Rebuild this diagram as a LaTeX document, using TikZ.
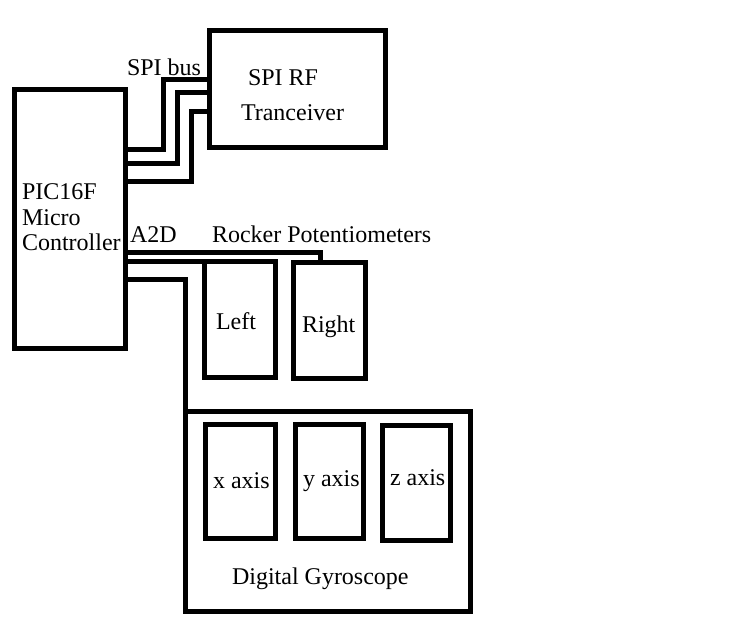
\documentclass[tikz,border=0pt]{standalone}
\usepackage{fontspec}
\setmainfont{Liberation Serif}
\newfontfamily\tnrfont{Liberation Serif}
\begin{document}
\begin{tikzpicture}[x=1pt,y=-1pt,
  box/.style={draw, line width=5pt, inner sep=0pt, outer sep=0pt},
  wire/.style={draw, line width=5pt},
  lbl/.style={inner sep=0pt, outer sep=0pt, anchor=base west, font=\tnrfont\fontsize{24}{25.5}\selectfont}]
\useasboundingbox (0,0) rectangle (738,636);
% boxes
\node[box, minimum width=111pt, minimum height=258pt] (pic) at (69.5,219) {};
\node[box, minimum width=176pt, minimum height=117pt] (spi) at (297,89.5) {};
\node[box, minimum width=71pt, minimum height=116pt] (left) at (239.5,319) {};
\node[box, minimum width=72pt, minimum height=116pt] (right) at (329,320) {};
\node[box, minimum width=285pt, minimum height=200pt] (gyro) at (327.5,511) {};
\node[box, minimum width=70pt, minimum height=114pt] (xax) at (240,481) {};
\node[box, minimum width=68pt, minimum height=114pt] (yax) at (329,481) {};
\node[box, minimum width=68pt, minimum height=115pt] (zax) at (416,482.5) {};
% SPI bus wires
\draw[wire] (pic.east |- 0,150) -| (163,80) -- (spi.west |- 163,80);
\draw[wire] (pic.east |- 0,164) -| (177,93) -- (spi.west |- 177,93);
\draw[wire] (pic.east |- 0,182) -| (191,112) -- (spi.west |- 191,112);
% A2D wires
\draw[wire] (pic.east |- 0,252) -| (right.north -| 320,0);
\draw[wire] (pic.east |- left.north west) -- (left.north west);
\draw[wire] (pic.east |- 0,279) -| (gyro.north west);
% labels
\node[lbl, anchor=north west, align=left] (pict) at (22,184) {PIC16F\\Micro\\Controller};
\node[lbl] (spib) at (127,76) {SPI bus};
\node[lbl] (spit1) at (248,86) {SPI RF};
\node[lbl] (spit2) at (241,121) {Tranceiver};
\node[lbl] (a2d) at (130,243) {A2D};
\node[lbl] (rock) at (212,243) {Rocker Potentiometers};
\node[lbl] (leftt) at (216,329) {Left};
\node[lbl] (rightt) at (302,332) {Right};
\node[lbl] (xt) at (213,488) {x axis};
\node[lbl] (yt) at (303,486) {y axis};
\node[lbl] (zt) at (390,485) {z axis};
\node[lbl] (gt) at (232,584) {Digital Gyroscope};
\end{tikzpicture}
\end{document}
